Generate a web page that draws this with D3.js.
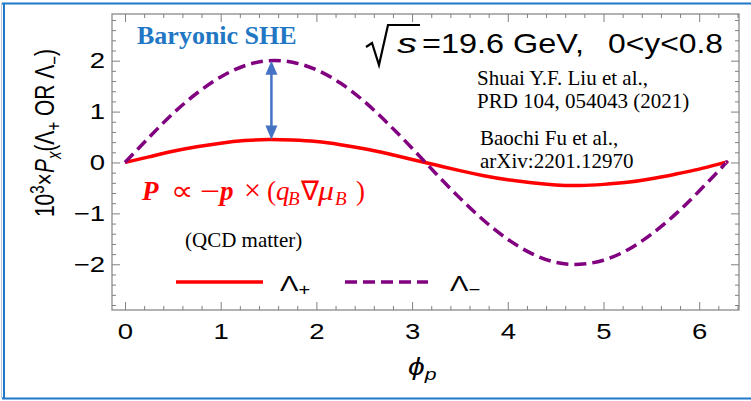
<!DOCTYPE html>
<html>
<head>
<meta charset="utf-8">
<script src="https://cdn.jsdelivr.net/npm/d3@7"></script>
<style>
  html, body { margin: 0; padding: 0; background: #fff; }
  svg { display: block; }
</style>
</head>
<body>
<svg id="chart" width="751" height="401"></svg>
<script>
// Azimuthal angle samples (rad)
const phi = [0, 0.25, 0.5, 0.75, 1.0, 1.25, 1.5, 1.75, 2.0, 2.25, 2.5, 2.75, 3.0,
             3.25, 3.5, 3.75, 4.0, 4.25, 4.5, 4.75, 5.0, 5.25, 5.5, 5.75, 6.0, 6.25, 6.28];
// 10^3 x P_x for Lambda+ (solid) and Lambda- (dashed)
const lambdaPlus  = [0, 0.11, 0.22, 0.31, 0.38, 0.43, 0.45, 0.44, 0.41, 0.35, 0.27, 0.17, 0.06,
                     -0.05, -0.16, -0.26, -0.34, -0.40, -0.44, -0.45, -0.43, -0.39, -0.32, -0.23, -0.13, -0.01, 0];
const lambdaMinus = [0, 0.49, 0.96, 1.36, 1.68, 1.90, 2.00, 1.97, 1.82, 1.56, 1.20, 0.76, 0.28,
                     -0.22, -0.70, -1.14, -1.51, -1.79, -1.96, -2.00, -1.92, -1.72, -1.41, -1.02, -0.56, -0.07, 0];
const xTicks = [0, 1, 2, 3, 4, 5, 6];
const yTicks = [-2, -1, 0, 1, 2];
// Baryonic spin Hall splitting marked near phi = pi/2
const arrowPhi = 1.53;
const arrowFrom = 0.45, arrowTo = 2.0;

const sans = "Liberation Sans, Arial, sans-serif";
const serif = "Liberation Serif, Times New Roman, serif";
const wide = 1.25; // horizontal glyph stretch of the sans labels

const svg = d3.select("#chart");
const pLeft = 112, pRight = 739, pTop = 14, pBottom = 310;

const x = d3.scaleLinear().domain([-0.1358, 6.416]).range([pLeft, pRight]);
const y = d3.scaleLinear().domain([-2.898, 2.917]).range([pBottom, pTop]);

// outer frame
svg.append("line").attr("x1", 2).attr("x2", 751).attr("y1", 3.5).attr("y2", 3.5)
  .attr("stroke", "#1f78c8").attr("stroke-width", 2);
svg.append("line").attr("x1", 4).attr("x2", 4).attr("y1", 3).attr("y2", 398)
  .attr("stroke", "#1f78c8").attr("stroke-width", 2);
svg.append("line").attr("x1", 1.5).attr("x2", 1.5).attr("y1", 3).attr("y2", 398)
  .attr("stroke", "#b9c9d8").attr("stroke-width", 1);
svg.append("line").attr("x1", 2).attr("x2", 751).attr("y1", 398.5).attr("y2", 398.5)
  .attr("stroke", "#1f78c8").attr("stroke-width", 2);

const axisColor = "#808080";
const minorX = d3.range(0, 6.41, 0.2).map(v => +v.toFixed(2)).filter(v => Math.abs(v - Math.round(v)) > 1e-6);
const minorY = d3.range(-2.8, 2.91, 0.2).map(v => +v.toFixed(2)).filter(v => Math.abs(v - Math.round(v)) > 1e-6);

function styleAxis(g) {
  g.select(".domain").remove();
  g.selectAll(".tick line").attr("stroke", axisColor).attr("stroke-width", 1);
  g.selectAll(".tick text").attr("font-size", 22).attr("fill", "#000").attr("font-family", sans)
    .attr("transform", function () {
      const tx = +d3.select(this).attr("x") || 0;
      return `translate(${tx},0) scale(${wide},1) translate(${-tx},0)`;
    });
}

// bottom
svg.append("g").attr("transform", `translate(0,${pBottom})`)
  .call(d3.axisBottom(x).tickValues(xTicks).tickSize(-8).tickPadding(13).tickFormat(d3.format("d")))
  .call(styleAxis);
svg.append("g").attr("transform", `translate(0,${pBottom})`)
  .call(d3.axisBottom(x).tickValues(minorX).tickSize(-4).tickFormat(""))
  .call(styleAxis);
// top
svg.append("g").attr("transform", `translate(0,${pTop})`)
  .call(d3.axisTop(x).tickValues(xTicks).tickSize(-8).tickFormat(""))
  .call(styleAxis);
svg.append("g").attr("transform", `translate(0,${pTop})`)
  .call(d3.axisTop(x).tickValues(minorX).tickSize(-4).tickFormat(""))
  .call(styleAxis);
// left
svg.append("g").attr("transform", `translate(${pLeft},0)`)
  .call(d3.axisLeft(y).tickValues(yTicks).tickSize(-8).tickPadding(7).tickFormat(d3.format("d")))
  .call(styleAxis);
svg.append("g").attr("transform", `translate(${pLeft},0)`)
  .call(d3.axisLeft(y).tickValues(minorY).tickSize(-4).tickFormat(""))
  .call(styleAxis);
// right
svg.append("g").attr("transform", `translate(${pRight},0)`)
  .call(d3.axisRight(y).tickValues(yTicks).tickSize(-8).tickFormat(""))
  .call(styleAxis);
svg.append("g").attr("transform", `translate(${pRight},0)`)
  .call(d3.axisRight(y).tickValues(minorY).tickSize(-4).tickFormat(""))
  .call(styleAxis);

svg.append("rect").attr("x", pLeft).attr("y", pTop).attr("width", pRight - pLeft).attr("height", pBottom - pTop)
  .attr("fill", "none").attr("stroke", axisColor).attr("stroke-width", 1.2);

// curves
const curve = d3.line().x(d => x(d[0])).y(d => y(d[1])).curve(d3.curveNatural);
svg.append("path").datum(phi.map((p, i) => [p, lambdaPlus[i]]))
  .attr("d", curve)
  .attr("fill", "none").attr("stroke", "#ff0000").attr("stroke-width", 3.5);
svg.append("path").datum(phi.map((p, i) => [p, lambdaMinus[i]]))
  .attr("d", curve)
  .attr("fill", "none").attr("stroke", "#800080").attr("stroke-width", 3.5)
  .attr("stroke-dasharray", "12,6");

// double-headed arrow
const ax = x(arrowPhi), ay1 = y(arrowFrom), ay2 = y(arrowTo);
const arrowColor = "#4472c4";
svg.append("line").attr("x1", ax).attr("x2", ax).attr("y1", ay1 - 12).attr("y2", ay2 + 12)
  .attr("stroke", arrowColor).attr("stroke-width", 2.5);
svg.append("path").attr("d", `M${ax},${ay2} L${ax - 6},${ay2 + 14} L${ax + 6},${ay2 + 14} Z`).attr("fill", arrowColor);
svg.append("path").attr("d", `M${ax},${ay1} L${ax - 6},${ay1 - 14} L${ax + 6},${ay1 - 14} Z`).attr("fill", arrowColor);

// annotations
svg.append("text").attr("x", 137).attr("y", 44)
  .attr("font-size", 26).attr("font-weight", "bold").attr("fill", "#2277c4")
  .attr("font-family", serif)
  .text("Baryonic SHE");

svg.append("path").attr("d", "M366,47 L372,43 L379,65 L388,25 L420,25")
  .attr("fill", "none").attr("stroke", "#000").attr("stroke-width", 2.2).attr("stroke-linejoin", "miter");
svg.append("text").attr("x", 397).attr("y", 53).attr("font-size", 28).attr("font-family", sans)
  .attr("font-style", "italic").attr("textLength", 20).attr("lengthAdjust", "spacingAndGlyphs").text("s");
svg.append("text").attr("x", 422).attr("y", 53).attr("font-size", 28).attr("font-family", sans)
  .attr("textLength", 162).attr("lengthAdjust", "spacingAndGlyphs").text("=19.6 GeV,");
svg.append("text").attr("x", 608).attr("y", 53).attr("font-size", 28).attr("font-family", sans)
  .attr("textLength", 115).attr("lengthAdjust", "spacingAndGlyphs").text("0<y<0.8");

const refLines = [
  [477, 85, "Shuai Y.F. Liu et al.,"],
  [477, 108, "PRD 104, 054043 (2021)"],
  [480, 145, "Baochi Fu et al.,"],
  [480, 168, "arXiv:2201.12970"]
];
svg.selectAll("text.ref").data(refLines).join("text").attr("class", "ref")
  .attr("x", d => d[0]).attr("y", d => d[1]).attr("font-size", 21).attr("font-family", serif)
  .attr("fill", "#000").text(d => d[2]);

// P ∝ −p × (q_B ∇μ_B)
const formula = [
  { t: "P", x: 142, bi: true },
  { t: "∝", x: 171, w: 22 },
  { t: "−", x: 200, w: 20 },
  { t: "p", x: 220, bi: true },
  { t: "×", x: 244, w: 17, size: 30 },
  { t: "(", x: 267 },
  { t: "q", x: 276, it: true },
  { t: "B", x: 288, it: true, sub: true },
  { t: "∇", x: 301 },
  { t: "μ", x: 318, it: true, w: 16 },
  { t: "B", x: 335, it: true, sub: true },
  { t: ")", x: 356 }
];
svg.append("g").selectAll("text").data(formula).join("text")
  .attr("x", d => d.x).attr("y", d => d.sub ? 205 : 200)
  .attr("font-size", d => d.size || (d.sub ? 19 : 27))
  .attr("font-family", serif).attr("fill", "#ff0000")
  .attr("font-weight", d => d.bi ? "bold" : "normal")
  .attr("font-style", d => (d.bi || d.it) ? "italic" : "normal")
  .each(function (d) {
    if (d.w) d3.select(this).attr("textLength", d.w).attr("lengthAdjust", "spacingAndGlyphs");
  })
  .text(d => d.t);

svg.append("text").attr("x", 185).attr("y", 247).attr("font-size", 21)
  .attr("font-family", serif).text("(QCD matter)");

// legend
svg.append("line").attr("x1", 176).attr("x2", 263).attr("y1", 282).attr("y2", 282)
  .attr("stroke", "#ff0000").attr("stroke-width", 3.5);
const l1 = svg.append("text").attr("transform", `translate(280,291) scale(${wide},1)`)
  .attr("font-size", 22).attr("font-family", sans);
l1.append("tspan").text("Λ");
l1.append("tspan").attr("font-size", 16).attr("dy", 4).text("+");
svg.append("line").attr("x1", 345).attr("x2", 428).attr("y1", 282).attr("y2", 282)
  .attr("stroke", "#800080").attr("stroke-width", 3.5).attr("stroke-dasharray", "12,6");
const l2 = svg.append("text").attr("transform", `translate(450,291) scale(${wide},1)`)
  .attr("font-size", 22).attr("font-family", sans);
l2.append("tspan").text("Λ");
l2.append("tspan").attr("font-size", 16).attr("dy", 4).text("−");

// axis titles
const xt = svg.append("text").attr("transform", `translate(408,375) scale(${wide},1)`)
  .attr("font-size", 24).attr("font-family", sans);
xt.append("tspan").attr("font-style", "italic").text("ϕ");
xt.append("tspan").attr("font-style", "italic").attr("font-size", 17).attr("dy", 5).text("p");

const yt = svg.append("text").attr("transform", `translate(54,133) scale(1.3,1) rotate(-90)`)
  .attr("text-anchor", "middle").attr("font-size", 21).attr("font-family", sans);
yt.append("tspan").text("10");
yt.append("tspan").attr("font-size", 15).attr("dy", -8).text("3");
yt.append("tspan").attr("dy", 8).text("×");
yt.append("tspan").attr("font-style", "italic").text("P");
yt.append("tspan").attr("font-style", "italic").attr("font-size", 15).attr("dy", 5).text("x");
yt.append("tspan").attr("dy", -5).text("(Λ");
yt.append("tspan").attr("font-size", 15).attr("dy", 5).text("+");
yt.append("tspan").attr("dy", -5).text(" OR Λ");
yt.append("tspan").attr("font-size", 15).attr("dy", 5).text("−");
yt.append("tspan").attr("dy", -5).text(")");
</script>
</body>
</html>
